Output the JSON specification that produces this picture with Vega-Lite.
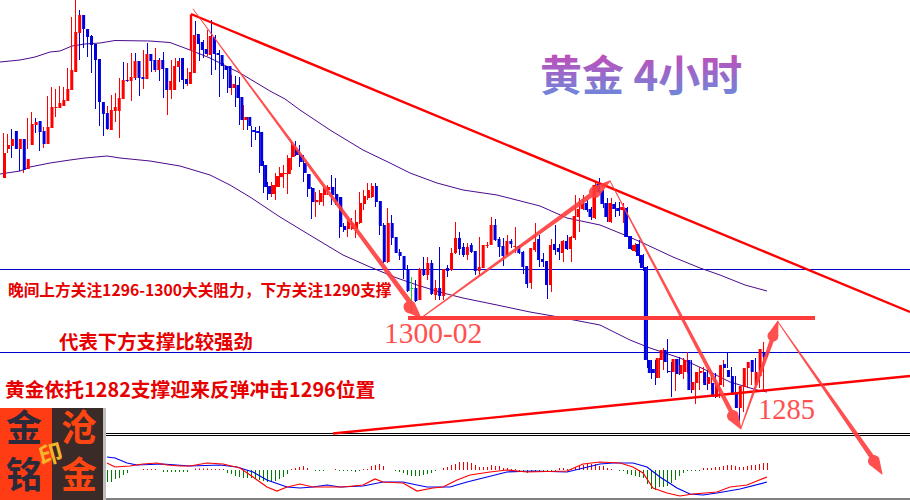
{
  "$schema": "https://vega.github.io/schema/vega-lite/v6.json",
  "width": 910,
  "height": 500,
  "autosize": {"type": "none"},
  "padding": 0,
  "background": "white",
  "config": {"view": {"stroke": null}},
  "resolve": {"scale": {"x": "independent", "y": "independent", "color": "independent", "size": "independent"}},
  "datasets": {
    "candles": [
      {"bar":-1,"dir":"up","high":150,"top":153,"bottom":178,"low":179},
      {"bar":0,"dir":"up","high":133,"top":145,"bottom":149,"low":155},
      {"bar":1,"dir":"up","high":134,"top":139,"bottom":146,"low":153},
      {"bar":2,"dir":"down","high":129,"top":131,"bottom":149,"low":158},
      {"bar":3,"dir":"up","high":136,"top":139,"bottom":149,"low":149},
      {"bar":4,"dir":"down","high":139,"top":139,"bottom":170,"low":171},
      {"bar":5,"dir":"up","high":139,"top":159,"bottom":169,"low":173},
      {"bar":6,"dir":"up","high":118,"top":124,"bottom":145,"low":149},
      {"bar":7,"dir":"up","high":112,"top":122,"bottom":125,"low":126},
      {"bar":8,"dir":"down","high":118,"top":121,"bottom":132,"low":133},
      {"bar":9,"dir":"down","high":129,"top":131,"bottom":144,"low":151},
      {"bar":10,"dir":"up","high":127,"top":127,"bottom":144,"low":148},
      {"bar":11,"dir":"up","high":96,"top":107,"bottom":128,"low":130},
      {"bar":12,"dir":"up","high":87,"top":107,"bottom":108,"low":122},
      {"bar":13,"dir":"up","high":89,"top":103,"bottom":108,"low":117},
      {"bar":14,"dir":"up","high":86,"top":100,"bottom":106,"low":107},
      {"bar":15,"dir":"up","high":87,"top":89,"bottom":101,"low":103},
      {"bar":16,"dir":"up","high":68,"top":70,"bottom":90,"low":91},
      {"bar":17,"dir":"up","high":17,"top":32,"bottom":72,"low":73},
      {"bar":18,"dir":"up","high":0,"top":15,"bottom":33,"low":38},
      {"bar":19,"dir":"down","high":10,"top":15,"bottom":29,"low":60},
      {"bar":20,"dir":"down","high":28,"top":29,"bottom":37,"low":48},
      {"bar":21,"dir":"down","high":33,"top":36,"bottom":45,"low":57},
      {"bar":22,"dir":"down","high":35,"top":44,"bottom":60,"low":73},
      {"bar":23,"dir":"down","high":59,"top":59,"bottom":102,"low":109},
      {"bar":24,"dir":"down","high":102,"top":102,"bottom":114,"low":126},
      {"bar":25,"dir":"down","high":112,"top":113,"bottom":129,"low":136},
      {"bar":26,"dir":"up","high":106,"top":110,"bottom":130,"low":130},
      {"bar":27,"dir":"up","high":95,"top":107,"bottom":111,"low":125},
      {"bar":28,"dir":"up","high":93,"top":98,"bottom":111,"low":122},
      {"bar":29,"dir":"up","high":78,"top":80,"bottom":99,"low":138},
      {"bar":30,"dir":"down","high":62,"top":80,"bottom":81,"low":86},
      {"bar":31,"dir":"up","high":63,"top":77,"bottom":81,"low":82},
      {"bar":32,"dir":"up","high":53,"top":61,"bottom":78,"low":101},
      {"bar":33,"dir":"down","high":53,"top":61,"bottom":78,"low":80},
      {"bar":34,"dir":"down","high":63,"top":77,"bottom":79,"low":96},
      {"bar":35,"dir":"up","high":50,"top":54,"bottom":79,"low":89},
      {"bar":36,"dir":"down","high":43,"top":54,"bottom":61,"low":68},
      {"bar":37,"dir":"down","high":57,"top":60,"bottom":70,"low":72},
      {"bar":38,"dir":"up","high":48,"top":60,"bottom":70,"low":72},
      {"bar":39,"dir":"down","high":58,"top":60,"bottom":69,"low":81},
      {"bar":40,"dir":"down","high":52,"top":68,"bottom":90,"low":98},
      {"bar":41,"dir":"up","high":80,"top":81,"bottom":90,"low":115},
      {"bar":42,"dir":"up","high":60,"top":66,"bottom":90,"low":99},
      {"bar":43,"dir":"up","high":58,"top":61,"bottom":67,"low":69},
      {"bar":44,"dir":"down","high":58,"top":58,"bottom":80,"low":82},
      {"bar":45,"dir":"down","high":75,"top":79,"bottom":84,"low":89},
      {"bar":46,"dir":"up","high":68,"top":72,"bottom":84,"low":86},
      {"bar":47,"dir":"up","high":15,"top":35,"bottom":73,"low":74},
      {"bar":48,"dir":"down","high":21,"top":34,"bottom":44,"low":50},
      {"bar":49,"dir":"down","high":38,"top":42,"bottom":50,"low":61},
      {"bar":50,"dir":"down","high":40,"top":49,"bottom":54,"low":58},
      {"bar":51,"dir":"up","high":30,"top":36,"bottom":55,"low":56},
      {"bar":52,"dir":"down","high":20,"top":37,"bottom":54,"low":75},
      {"bar":53,"dir":"down","high":35,"top":53,"bottom":55,"low":70},
      {"bar":54,"dir":"down","high":50,"top":55,"bottom":66,"low":97},
      {"bar":55,"dir":"down","high":63,"top":66,"bottom":70,"low":79},
      {"bar":56,"dir":"down","high":66,"top":66,"bottom":88,"low":93},
      {"bar":57,"dir":"up","high":75,"top":84,"bottom":88,"low":95},
      {"bar":58,"dir":"down","high":76,"top":85,"bottom":98,"low":107},
      {"bar":59,"dir":"down","high":77,"top":97,"bottom":120,"low":125},
      {"bar":60,"dir":"up","high":105,"top":117,"bottom":120,"low":130},
      {"bar":61,"dir":"down","high":117,"top":117,"bottom":126,"low":130},
      {"bar":62,"dir":"down","high":126,"top":130,"bottom":132,"low":147},
      {"bar":63,"dir":"down","high":127,"top":131,"bottom":133,"low":140},
      {"bar":64,"dir":"down","high":126,"top":132,"bottom":166,"low":173},
      {"bar":65,"dir":"down","high":161,"top":165,"bottom":187,"low":193},
      {"bar":66,"dir":"down","high":182,"top":186,"bottom":194,"low":200},
      {"bar":67,"dir":"up","high":182,"top":185,"bottom":194,"low":197},
      {"bar":68,"dir":"up","high":173,"top":176,"bottom":187,"low":200},
      {"bar":69,"dir":"up","high":167,"top":173,"bottom":177,"low":187},
      {"bar":70,"dir":"up","high":165,"top":173,"bottom":174,"low":188},
      {"bar":71,"dir":"up","high":155,"top":158,"bottom":174,"low":194},
      {"bar":72,"dir":"up","high":142,"top":145,"bottom":157,"low":170},
      {"bar":73,"dir":"down","high":141,"top":150,"bottom":155,"low":156},
      {"bar":74,"dir":"down","high":145,"top":155,"bottom":162,"low":167},
      {"bar":75,"dir":"down","high":155,"top":163,"bottom":173,"low":182},
      {"bar":76,"dir":"down","high":174,"top":174,"bottom":189,"low":197},
      {"bar":77,"dir":"down","high":187,"top":188,"bottom":202,"low":219},
      {"bar":78,"dir":"up","high":192,"top":200,"bottom":202,"low":217},
      {"bar":79,"dir":"up","high":190,"top":193,"bottom":202,"low":205},
      {"bar":80,"dir":"up","high":187,"top":189,"bottom":195,"low":206},
      {"bar":81,"dir":"up","high":185,"top":187,"bottom":190,"low":195},
      {"bar":82,"dir":"down","high":175,"top":187,"bottom":195,"low":205},
      {"bar":83,"dir":"down","high":178,"top":194,"bottom":202,"low":205},
      {"bar":84,"dir":"down","high":197,"top":197,"bottom":227,"low":238},
      {"bar":85,"dir":"down","high":223,"top":226,"bottom":230,"low":232},
      {"bar":86,"dir":"up","high":220,"top":222,"bottom":229,"low":237},
      {"bar":87,"dir":"up","high":218,"top":223,"bottom":229,"low":230},
      {"bar":88,"dir":"up","high":210,"top":222,"bottom":229,"low":238},
      {"bar":89,"dir":"up","high":192,"top":203,"bottom":223,"low":224},
      {"bar":90,"dir":"up","high":190,"top":196,"bottom":204,"low":210},
      {"bar":91,"dir":"up","high":183,"top":190,"bottom":198,"low":200},
      {"bar":92,"dir":"up","high":183,"top":186,"bottom":197,"low":198},
      {"bar":93,"dir":"down","high":183,"top":186,"bottom":202,"low":207},
      {"bar":94,"dir":"down","high":201,"top":201,"bottom":226,"low":235},
      {"bar":95,"dir":"down","high":223,"top":225,"bottom":262,"low":263},
      {"bar":96,"dir":"up","high":208,"top":223,"bottom":262,"low":263},
      {"bar":97,"dir":"down","high":215,"top":223,"bottom":238,"low":245},
      {"bar":98,"dir":"down","high":237,"top":237,"bottom":253,"low":253},
      {"bar":99,"dir":"down","high":249,"top":252,"bottom":256,"low":260},
      {"bar":100,"dir":"down","high":256,"top":256,"bottom":270,"low":279},
      {"bar":101,"dir":"down","high":265,"top":269,"bottom":291,"low":292},
      {"bar":102,"dir":"flat","high":277,"top":288,"bottom":289,"low":313},
      {"bar":103,"dir":"down","high":280,"top":288,"bottom":301,"low":302},
      {"bar":104,"dir":"up","high":268,"top":269,"bottom":300,"low":300},
      {"bar":105,"dir":"down","high":257,"top":269,"bottom":275,"low":276},
      {"bar":106,"dir":"up","high":257,"top":263,"bottom":275,"low":280},
      {"bar":107,"dir":"down","high":260,"top":263,"bottom":294,"low":295},
      {"bar":108,"dir":"up","high":280,"top":288,"bottom":295,"low":300},
      {"bar":109,"dir":"down","high":247,"top":288,"bottom":296,"low":300},
      {"bar":110,"dir":"up","high":269,"top":269,"bottom":296,"low":300},
      {"bar":111,"dir":"down","high":265,"top":268,"bottom":271,"low":277},
      {"bar":112,"dir":"up","high":248,"top":253,"bottom":270,"low":271},
      {"bar":113,"dir":"up","high":222,"top":238,"bottom":253,"low":254},
      {"bar":114,"dir":"down","high":232,"top":238,"bottom":249,"low":255},
      {"bar":115,"dir":"down","high":243,"top":247,"bottom":255,"low":257},
      {"bar":116,"dir":"up","high":243,"top":247,"bottom":255,"low":260},
      {"bar":117,"dir":"down","high":243,"top":245,"bottom":252,"low":253},
      {"bar":118,"dir":"down","high":251,"top":251,"bottom":271,"low":275},
      {"bar":119,"dir":"up","high":237,"top":267,"bottom":271,"low":276},
      {"bar":120,"dir":"up","high":245,"top":245,"bottom":268,"low":268},
      {"bar":121,"dir":"up","high":242,"top":245,"bottom":246,"low":248},
      {"bar":122,"dir":"up","high":217,"top":225,"bottom":245,"low":245},
      {"bar":123,"dir":"down","high":219,"top":225,"bottom":240,"low":241},
      {"bar":124,"dir":"down","high":237,"top":239,"bottom":247,"low":257},
      {"bar":125,"dir":"down","high":238,"top":246,"bottom":256,"low":266},
      {"bar":126,"dir":"up","high":235,"top":241,"bottom":255,"low":256},
      {"bar":127,"dir":"down","high":239,"top":241,"bottom":244,"low":248},
      {"bar":128,"dir":"up","high":227,"top":246,"bottom":247,"low":253},
      {"bar":129,"dir":"down","high":245,"top":246,"bottom":253,"low":254},
      {"bar":130,"dir":"down","high":251,"top":252,"bottom":267,"low":274},
      {"bar":131,"dir":"down","high":266,"top":266,"bottom":284,"low":288},
      {"bar":132,"dir":"up","high":248,"top":248,"bottom":283,"low":289},
      {"bar":133,"dir":"up","high":223,"top":242,"bottom":250,"low":252},
      {"bar":134,"dir":"down","high":235,"top":239,"bottom":260,"low":267},
      {"bar":135,"dir":"down","high":253,"top":259,"bottom":262,"low":267},
      {"bar":136,"dir":"down","high":261,"top":261,"bottom":285,"low":299},
      {"bar":137,"dir":"up","high":239,"top":245,"bottom":285,"low":292},
      {"bar":138,"dir":"down","high":225,"top":244,"bottom":250,"low":255},
      {"bar":139,"dir":"down","high":244,"top":248,"bottom":252,"low":260},
      {"bar":140,"dir":"up","high":240,"top":241,"bottom":253,"low":262},
      {"bar":141,"dir":"down","high":235,"top":241,"bottom":249,"low":250},
      {"bar":142,"dir":"up","high":236,"top":237,"bottom":249,"low":262},
      {"bar":143,"dir":"up","high":195,"top":216,"bottom":238,"low":240},
      {"bar":144,"dir":"up","high":198,"top":209,"bottom":217,"low":232},
      {"bar":145,"dir":"up","high":195,"top":204,"bottom":209,"low":210},
      {"bar":146,"dir":"down","high":200,"top":203,"bottom":210,"low":212},
      {"bar":147,"dir":"down","high":207,"top":209,"bottom":217,"low":220},
      {"bar":148,"dir":"up","high":182,"top":185,"bottom":218,"low":219},
      {"bar":149,"dir":"down","high":178,"top":184,"bottom":192,"low":193},
      {"bar":150,"dir":"down","high":190,"top":191,"bottom":204,"low":208},
      {"bar":151,"dir":"down","high":198,"top":203,"bottom":217,"low":222},
      {"bar":152,"dir":"up","high":198,"top":203,"bottom":222,"low":223},
      {"bar":153,"dir":"down","high":202,"top":204,"bottom":209,"low":217},
      {"bar":154,"dir":"down","high":202,"top":208,"bottom":211,"low":216},
      {"bar":155,"dir":"up","high":203,"top":207,"bottom":210,"low":223},
      {"bar":156,"dir":"down","high":207,"top":208,"bottom":237,"low":237},
      {"bar":157,"dir":"down","high":236,"top":236,"bottom":249,"low":250},
      {"bar":158,"dir":"up","high":243,"top":245,"bottom":251,"low":252},
      {"bar":159,"dir":"down","high":240,"top":244,"bottom":256,"low":263},
      {"bar":160,"dir":"down","high":254,"top":255,"bottom":268,"low":271},
      {"bar":161,"dir":"down","high":266,"top":267,"bottom":360,"low":368},
      {"bar":162,"dir":"down","high":360,"top":360,"bottom":373,"low":379},
      {"bar":163,"dir":"down","high":360,"top":369,"bottom":373,"low":385},
      {"bar":164,"dir":"up","high":358,"top":358,"bottom":378,"low":378},
      {"bar":165,"dir":"up","high":348,"top":350,"bottom":360,"low":370},
      {"bar":166,"dir":"down","high":339,"top":350,"bottom":362,"low":373},
      {"bar":167,"dir":"down","high":362,"top":371,"bottom":372,"low":397},
      {"bar":168,"dir":"up","high":359,"top":359,"bottom":372,"low":391},
      {"bar":169,"dir":"down","high":357,"top":359,"bottom":374,"low":375},
      {"bar":170,"dir":"up","high":358,"top":365,"bottom":374,"low":379},
      {"bar":171,"dir":"up","high":352,"top":360,"bottom":372,"low":373},
      {"bar":172,"dir":"down","high":360,"top":360,"bottom":390,"low":393},
      {"bar":173,"dir":"up","high":372,"top":382,"bottom":390,"low":404},
      {"bar":174,"dir":"up","high":367,"top":372,"bottom":383,"low":390},
      {"bar":175,"dir":"up","high":367,"top":371,"bottom":373,"low":383},
      {"bar":176,"dir":"down","high":370,"top":372,"bottom":385,"low":390},
      {"bar":177,"dir":"up","high":375,"top":377,"bottom":384,"low":390},
      {"bar":178,"dir":"down","high":373,"top":383,"bottom":397,"low":398},
      {"bar":179,"dir":"up","high":383,"top":385,"bottom":397,"low":398},
      {"bar":180,"dir":"up","high":360,"top":365,"bottom":385,"low":387},
      {"bar":181,"dir":"down","high":353,"top":364,"bottom":368,"low":368},
      {"bar":182,"dir":"down","high":367,"top":370,"bottom":377,"low":385},
      {"bar":183,"dir":"down","high":376,"top":376,"bottom":395,"low":400},
      {"bar":184,"dir":"down","high":394,"top":394,"bottom":408,"low":421},
      {"bar":185,"dir":"up","high":386,"top":386,"bottom":408,"low":412},
      {"bar":186,"dir":"up","high":365,"top":368,"bottom":387,"low":388},
      {"bar":187,"dir":"up","high":360,"top":362,"bottom":368,"low":385},
      {"bar":188,"dir":"down","high":358,"top":360,"bottom":372,"low":378},
      {"bar":189,"dir":"up","high":372,"top":372,"bottom":385,"low":388},
      {"bar":190,"dir":"up","high":342,"top":349,"bottom":376,"low":391},
      {"bar":191,"dir":"down","high":352,"top":352,"bottom":357,"low":357}
    ],
    "hist": [
      {"bar":26,"hist":-12},{"bar":27,"hist":-12},{"bar":28,"hist":-9},{"bar":29,"hist":-8},{"bar":30,"hist":-5},{"bar":31,"hist":-3},
      {"bar":35,"hist":1},{"bar":36,"hist":1},{"bar":37,"hist":1},{"bar":38,"hist":1},
      {"bar":40,"hist":-2},{"bar":41,"hist":-2},{"bar":42,"hist":-2},{"bar":43,"hist":-2},{"bar":44,"hist":-2},{"bar":45,"hist":-2},{"bar":46,"hist":-2},
      {"bar":48,"hist":1.5},{"bar":49,"hist":1.5},{"bar":50,"hist":1.5},{"bar":51,"hist":1.5},{"bar":52,"hist":1},{"bar":53,"hist":1},{"bar":54,"hist":1},{"bar":55,"hist":1},
      {"bar":56,"hist":-3},{"bar":57,"hist":-4},{"bar":58,"hist":-6},{"bar":59,"hist":-7},{"bar":60,"hist":-8},{"bar":61,"hist":-8},{"bar":62,"hist":-8},{"bar":63,"hist":-9},{"bar":64,"hist":-10},{"bar":65,"hist":-11},{"bar":66,"hist":-12},{"bar":67,"hist":-12},{"bar":68,"hist":-11},{"bar":69,"hist":-9},{"bar":70,"hist":-7},{"bar":71,"hist":-4},
      {"bar":72,"hist":1},{"bar":73,"hist":2},{"bar":74,"hist":3},{"bar":75,"hist":4},{"bar":76,"hist":2},
      {"bar":78,"hist":-1},{"bar":79,"hist":-1},{"bar":80,"hist":-1},
      {"bar":83,"hist":1},{"bar":84,"hist":-1},{"bar":85,"hist":-1},{"bar":86,"hist":-1},{"bar":87,"hist":-1},{"bar":88,"hist":-2},{"bar":89,"hist":-1},
      {"bar":90,"hist":1},{"bar":91,"hist":1},{"bar":92,"hist":4},{"bar":93,"hist":5},{"bar":94,"hist":6},{"bar":95,"hist":4},
      {"bar":98,"hist":-1},{"bar":99,"hist":-2},{"bar":100,"hist":-3},{"bar":101,"hist":-5},{"bar":102,"hist":-6},{"bar":103,"hist":-6},{"bar":104,"hist":-6},{"bar":105,"hist":-5},{"bar":106,"hist":-4},{"bar":107,"hist":-3},{"bar":108,"hist":-1},
      {"bar":110,"hist":2},{"bar":111,"hist":3},{"bar":112,"hist":5},{"bar":113,"hist":6},{"bar":114,"hist":8},{"bar":115,"hist":8},{"bar":116,"hist":8},{"bar":117,"hist":7},{"bar":118,"hist":5},{"bar":119,"hist":3},{"bar":120,"hist":3},{"bar":121,"hist":3},{"bar":122,"hist":5},{"bar":123,"hist":4},{"bar":124,"hist":4},{"bar":125,"hist":2},{"bar":126,"hist":2},{"bar":127,"hist":1},{"bar":128,"hist":1},
      {"bar":129,"hist":-1},{"bar":130,"hist":-1},{"bar":131,"hist":-3},{"bar":132,"hist":-2},{"bar":133,"hist":-2},{"bar":134,"hist":-2},{"bar":135,"hist":-2},{"bar":136,"hist":-1},{"bar":137,"hist":-1},{"bar":138,"hist":-1},
      {"bar":139,"hist":2},{"bar":140,"hist":2},{"bar":141,"hist":1},{"bar":142,"hist":1},{"bar":143,"hist":3},{"bar":144,"hist":4},{"bar":145,"hist":5},{"bar":146,"hist":6},{"bar":147,"hist":6},{"bar":148,"hist":6},{"bar":149,"hist":4},{"bar":150,"hist":4},{"bar":151,"hist":2},{"bar":152,"hist":1},
      {"bar":154,"hist":-1},{"bar":155,"hist":-1},{"bar":156,"hist":-4},{"bar":157,"hist":-5},{"bar":158,"hist":-6},{"bar":159,"hist":-7},{"bar":160,"hist":-8},{"bar":161,"hist":-14},{"bar":162,"hist":-19},{"bar":163,"hist":-20},{"bar":164,"hist":-17},{"bar":165,"hist":-17},{"bar":166,"hist":-16},{"bar":167,"hist":-13},{"bar":168,"hist":-10},{"bar":169,"hist":-6},{"bar":170,"hist":-3},{"bar":171,"hist":-1},{"bar":172,"hist":-1},{"bar":173,"hist":-1},{"bar":174,"hist":-1},
      {"bar":175,"hist":2},{"bar":176,"hist":2},{"bar":177,"hist":2},{"bar":178,"hist":3},{"bar":179,"hist":3},{"bar":180,"hist":4},{"bar":181,"hist":5},{"bar":182,"hist":5},{"bar":183,"hist":4},{"bar":184,"hist":3},{"bar":185,"hist":3},{"bar":186,"hist":4},{"bar":187,"hist":5},{"bar":188,"hist":5},{"bar":189,"hist":6},{"bar":190,"hist":7},{"bar":191,"hist":7}
    ],
    "averages": [
      {"band":"upper","x":0,"y":62},{"band":"upper","x":20,"y":60},{"band":"upper","x":35,"y":57},{"band":"upper","x":50,"y":52},{"band":"upper","x":60,"y":51},{"band":"upper","x":72,"y":46},{"band":"upper","x":85,"y":44},{"band":"upper","x":100,"y":43},{"band":"upper","x":115,"y":40.5},{"band":"upper","x":150,"y":41},{"band":"upper","x":170,"y":42.5},{"band":"upper","x":190,"y":50},{"band":"upper","x":210,"y":58},{"band":"upper","x":240,"y":73},{"band":"upper","x":255,"y":82},{"band":"upper","x":270,"y":91},{"band":"upper","x":285,"y":99},{"band":"upper","x":300,"y":110},{"band":"upper","x":330,"y":130},{"band":"upper","x":363,"y":150},{"band":"upper","x":390,"y":163},{"band":"upper","x":410,"y":173},{"band":"upper","x":437,"y":183},{"band":"upper","x":463,"y":190},{"band":"upper","x":497,"y":195},{"band":"upper","x":540,"y":206},{"band":"upper","x":567,"y":218},{"band":"upper","x":600,"y":225},{"band":"upper","x":627,"y":236},{"band":"upper","x":643,"y":243},{"band":"upper","x":673,"y":257},{"band":"upper","x":700,"y":268},{"band":"upper","x":720,"y":275},{"band":"upper","x":745,"y":285},{"band":"upper","x":767,"y":291},
      {"band":"lower","x":0,"y":174},{"band":"lower","x":20,"y":171},{"band":"lower","x":30,"y":167},{"band":"lower","x":50,"y":163},{"band":"lower","x":70,"y":160},{"band":"lower","x":85,"y":158},{"band":"lower","x":107,"y":156},{"band":"lower","x":120,"y":158},{"band":"lower","x":150,"y":161},{"band":"lower","x":180,"y":166},{"band":"lower","x":210,"y":175},{"band":"lower","x":230,"y":185},{"band":"lower","x":250,"y":197},{"band":"lower","x":280,"y":217},{"band":"lower","x":313,"y":237},{"band":"lower","x":343,"y":255},{"band":"lower","x":370,"y":267},{"band":"lower","x":397,"y":278},{"band":"lower","x":417,"y":285},{"band":"lower","x":443,"y":293},{"band":"lower","x":463,"y":298},{"band":"lower","x":497,"y":305},{"band":"lower","x":530,"y":312},{"band":"lower","x":553,"y":316},{"band":"lower","x":600,"y":325},{"band":"lower","x":630,"y":340},{"band":"lower","x":650,"y":348},{"band":"lower","x":680,"y":358},{"band":"lower","x":710,"y":372},{"band":"lower","x":730,"y":382},{"band":"lower","x":757,"y":390},{"band":"lower","x":767,"y":392}
    ],
    "macd": [
      {"line":"signal","x":107,"y":457},{"line":"signal","x":115,"y":458},{"line":"signal","x":127,"y":463},{"line":"signal","x":137,"y":465},{"line":"signal","x":163,"y":464},{"line":"signal","x":190,"y":466},{"line":"signal","x":220,"y":465},{"line":"signal","x":237,"y":467},{"line":"signal","x":253,"y":472},{"line":"signal","x":267,"y":480},{"line":"signal","x":287,"y":487},{"line":"signal","x":300,"y":488},{"line":"signal","x":313,"y":487},{"line":"signal","x":327,"y":485},{"line":"signal","x":340,"y":487},{"line":"signal","x":363,"y":486},{"line":"signal","x":383,"y":482},{"line":"signal","x":403,"y":482},{"line":"signal","x":417,"y":485},{"line":"signal","x":427,"y":487},{"line":"signal","x":450,"y":487},{"line":"signal","x":467,"y":482},{"line":"signal","x":487,"y":477},{"line":"signal","x":507,"y":472},{"line":"signal","x":533,"y":471},{"line":"signal","x":567,"y":472},{"line":"signal","x":600,"y":464},{"line":"signal","x":613,"y":463},{"line":"signal","x":633,"y":463},{"line":"signal","x":647,"y":467},{"line":"signal","x":660,"y":477},{"line":"signal","x":677,"y":488},{"line":"signal","x":690,"y":494},{"line":"signal","x":703,"y":495},{"line":"signal","x":717,"y":493},{"line":"signal","x":740,"y":489},{"line":"signal","x":767,"y":482},
      {"line":"macd","x":107,"y":463},{"line":"macd","x":115,"y":467},{"line":"macd","x":130,"y":466},{"line":"macd","x":143,"y":464},{"line":"macd","x":157,"y":463},{"line":"macd","x":167,"y":465},{"line":"macd","x":180,"y":466},{"line":"macd","x":190,"y":466},{"line":"macd","x":207,"y":463},{"line":"macd","x":223,"y":464},{"line":"macd","x":240,"y":468},{"line":"macd","x":253,"y":477},{"line":"macd","x":267,"y":487},{"line":"macd","x":277,"y":491},{"line":"macd","x":287,"y":487},{"line":"macd","x":300,"y":484},{"line":"macd","x":313,"y":487},{"line":"macd","x":343,"y":487},{"line":"macd","x":363,"y":485},{"line":"macd","x":375,"y":479},{"line":"macd","x":383,"y":482},{"line":"macd","x":403,"y":483},{"line":"macd","x":417,"y":491},{"line":"macd","x":433,"y":488},{"line":"macd","x":443,"y":487},{"line":"macd","x":457,"y":480},{"line":"macd","x":470,"y":475},{"line":"macd","x":490,"y":472},{"line":"macd","x":507,"y":470},{"line":"macd","x":527,"y":472},{"line":"macd","x":567,"y":471},{"line":"macd","x":583,"y":464},{"line":"macd","x":600,"y":462},{"line":"macd","x":620,"y":463},{"line":"macd","x":633,"y":467},{"line":"macd","x":643,"y":473},{"line":"macd","x":653,"y":488},{"line":"macd","x":667,"y":493},{"line":"macd","x":680,"y":496},{"line":"macd","x":693,"y":494},{"line":"macd","x":717,"y":492},{"line":"macd","x":730,"y":487},{"line":"macd","x":747,"y":485},{"line":"macd","x":767,"y":477}
    ],
    "trends": [
      {"trend":"falling","x":191,"y":50},{"trend":"falling","x":191,"y":14.5},{"trend":"falling2","x":191,"y":14},{"trend":"falling2","x":910,"y":312},
      {"trend":"rising","x":333,"y":433.5},{"trend":"rising","x":910,"y":376}
    ],
    "arrows": [
      {"arrow":"a","seq":1,"x":193,"y":9,"weight":0.8},{"arrow":"a","seq":2,"x":412,"y":305,"weight":5},{"arrow":"a","seq":3,"x":410,"y":307,"weight":13},{"arrow":"a","seq":4,"x":421,"y":318,"weight":1},
      {"arrow":"b","seq":1,"x":421,"y":318,"weight":1},{"arrow":"b","seq":2,"x":594,"y":193,"weight":5},{"arrow":"b","seq":3,"x":595,"y":192,"weight":12},{"arrow":"b","seq":4,"x":610,"y":181,"weight":1},
      {"arrow":"c","seq":1,"x":610,"y":181,"weight":1},{"arrow":"c","seq":2,"x":733,"y":415,"weight":4.5},{"arrow":"c","seq":3,"x":733,"y":416,"weight":12},{"arrow":"c","seq":4,"x":741,"y":429,"weight":1},
      {"arrow":"d","seq":1,"x":741,"y":428,"weight":1},{"arrow":"d","seq":2,"x":773,"y":337,"weight":4.5},{"arrow":"d","seq":3,"x":773,"y":336,"weight":11},{"arrow":"d","seq":4,"x":778,"y":321,"weight":1},
      {"arrow":"e","seq":1,"x":778,"y":322,"weight":1},{"arrow":"e","seq":2,"x":874,"y":460,"weight":5},{"arrow":"e","seq":3,"x":874,"y":461,"weight":12},{"arrow":"e","seq":4,"x":882,"y":474,"weight":1}
    ],
    "levels": [
      {"kind":"blue","y":269.5,"x":0,"x2":910},
      {"kind":"blue","y":352.5,"x":0,"x2":910},
      {"kind":"black","y":433.5,"x":0,"x2":910},
      {"kind":"black","y":435.5,"x":0,"x2":910},
      {"kind":"black","y":499,"x":0,"x2":910}
    ],
    "logo": [
      {"part":"left","x":0,"x2":52,"y":408,"y2":500},
      {"part":"right","x":52,"x2":103,"y":408,"y2":500},
      {"part":"edge","x":103,"x2":106,"y":408,"y2":500}
    ]
  },
  "layer": [
    {
      "data": {"name": "levels"},
      "mark": {"type": "rule", "strokeWidth": 1},
      "encoding": {
        "x": {"field": "x", "type": "quantitative", "scale": {"domain": [0, 910], "nice": false, "zero": false}, "axis": null},
        "x2": {"field": "x2"},
        "y": {"field": "y", "type": "quantitative", "scale": {"domain": [500, 0], "nice": false, "zero": false}, "axis": null},
        "color": {"field": "kind", "type": "nominal", "scale": {"domain": ["blue", "black"], "range": ["#0000cc", "#000000"]}, "legend": null}
      }
    },
    {
      "data": {"name": "averages"},
      "mark": {"type": "line", "strokeWidth": 1, "color": "#4b0a8c"},
      "encoding": {
        "x": {"field": "x", "type": "quantitative", "scale": {"domain": [0, 910], "nice": false, "zero": false}, "axis": null},
        "y": {"field": "y", "type": "quantitative", "scale": {"domain": [500, 0], "nice": false, "zero": false}, "axis": null},
        "detail": {"field": "band"}
      }
    },
    {
      "data": {"name": "candles"},
      "mark": {"type": "rule", "strokeWidth": 1, "clip": true},
      "encoding": {
        "x": {"field": "bar", "type": "quantitative", "scale": {"domain": [-0.875, 226.625], "nice": false, "zero": false}, "axis": null},
        "y": {"field": "high", "type": "quantitative", "scale": {"domain": [500, 0], "nice": false, "zero": false}, "axis": null},
        "y2": {"field": "low"},
        "color": {"field": "dir", "type": "nominal", "scale": {"domain": ["up", "down", "flat"], "range": ["#ff0000", "#0000dd", "#22cc22"]}, "legend": null}
      }
    },
    {
      "data": {"name": "candles"},
      "mark": {"type": "bar", "size": 3, "clip": true},
      "encoding": {
        "x": {"field": "bar", "type": "quantitative", "scale": {"domain": [-0.875, 226.625], "nice": false, "zero": false}, "axis": null},
        "y": {"field": "top", "type": "quantitative", "scale": {"domain": [500, 0], "nice": false, "zero": false}, "axis": null},
        "y2": {"field": "bottom"},
        "color": {"field": "dir", "type": "nominal", "scale": {"domain": ["up", "down", "flat"], "range": ["#ff0000", "#0000dd", "#22cc22"]}, "legend": null}
      }
    },
    {
      "data": {"name": "hist"},
      "mark": {"type": "rule", "strokeWidth": 1},
      "encoding": {
        "x": {"field": "bar", "type": "quantitative", "scale": {"domain": [-0.875, 226.625], "nice": false, "zero": false}, "axis": null},
        "y": {"field": "hist", "type": "quantitative", "scale": {"domain": [-30, 470], "nice": false, "zero": false}, "axis": null},
        "y2": {"datum": 0},
        "color": {"condition": {"test": "datum.hist > 0", "value": "#ee0000"}, "value": "#007a00"}
      }
    },
    {
      "data": {"name": "macd"},
      "mark": {"type": "line", "strokeWidth": 1.2},
      "encoding": {
        "x": {"field": "x", "type": "quantitative", "scale": {"domain": [0, 910], "nice": false, "zero": false}, "axis": null},
        "y": {"field": "y", "type": "quantitative", "scale": {"domain": [500, 0], "nice": false, "zero": false}, "axis": null},
        "color": {"field": "line", "type": "nominal", "scale": {"domain": ["signal", "macd"], "range": ["#0000ee", "#ff0000"]}, "legend": null}
      }
    },
    {
      "data": {"name": "trends"},
      "mark": {"type": "line", "strokeWidth": 2.4, "color": "#ff0000"},
      "encoding": {
        "x": {"field": "x", "type": "quantitative", "scale": {"domain": [0, 910], "nice": false, "zero": false}, "axis": null},
        "y": {"field": "y", "type": "quantitative", "scale": {"domain": [500, 0], "nice": false, "zero": false}, "axis": null},
        "detail": {"field": "trend"}
      }
    },
    {
      "data": {"values": [{"level": "1300-02", "x": 408, "x2": 815, "y": 318}]},
      "mark": {"type": "rule", "strokeWidth": 4, "color": "#ff3c3c"},
      "encoding": {
        "x": {"field": "x", "type": "quantitative", "scale": {"domain": [0, 910], "nice": false, "zero": false}, "axis": null},
        "x2": {"field": "x2"},
        "y": {"field": "y", "type": "quantitative", "scale": {"domain": [500, 0], "nice": false, "zero": false}, "axis": null}
      }
    },
    {
      "data": {"name": "arrows"},
      "mark": {"type": "trail", "color": "#ff3c3c", "opacity": 0.9},
      "encoding": {
        "x": {"field": "x", "type": "quantitative", "scale": {"domain": [0, 910], "nice": false, "zero": false}, "axis": null},
        "y": {"field": "y", "type": "quantitative", "scale": {"domain": [500, 0], "nice": false, "zero": false}, "axis": null},
        "size": {"field": "weight", "type": "quantitative", "scale": {"domain": [0, 14], "range": [0, 14]}, "legend": null},
        "detail": {"field": "arrow"},
        "order": {"field": "seq", "type": "quantitative"}
      }
    },
    {
      "data": {"name": "logo"},
      "mark": {"type": "rect"},
      "encoding": {
        "x": {"field": "x", "type": "quantitative", "scale": {"domain": [0, 910], "nice": false, "zero": false}, "axis": null},
        "x2": {"field": "x2"},
        "y": {"field": "y", "type": "quantitative", "scale": {"domain": [500, 0], "nice": false, "zero": false}, "axis": null},
        "y2": {"field": "y2"},
        "color": {"field": "part", "type": "nominal", "scale": {"domain": ["left", "right", "edge"], "range": ["#ff3c14", "#3a2a28", "#bdbdbd"]}, "legend": null}
      }
    },
    {
      "data": {"values": [{"t": "金", "x": 24, "y": 430}, {"t": "铭", "x": 24, "y": 477}]},
      "mark": {"type": "text", "font": "Noto Sans CJK SC", "fontWeight": "bold", "fontSize": 36, "color": "#2a2a3a", "baseline": "middle"},
      "encoding": {
        "x": {"field": "x", "type": "quantitative", "scale": {"domain": [0, 910], "nice": false, "zero": false}, "axis": null},
        "y": {"field": "y", "type": "quantitative", "scale": {"domain": [500, 0], "nice": false, "zero": false}, "axis": null},
        "text": {"field": "t"}
      }
    },
    {
      "data": {"values": [{"t": "沧", "x": 79, "y": 430}, {"t": "金", "x": 79, "y": 477}]},
      "mark": {"type": "text", "font": "Noto Sans CJK SC", "fontWeight": "bold", "fontSize": 36, "color": "#ff4512", "baseline": "middle"},
      "encoding": {
        "x": {"field": "x", "type": "quantitative", "scale": {"domain": [0, 910], "nice": false, "zero": false}, "axis": null},
        "y": {"field": "y", "type": "quantitative", "scale": {"domain": [500, 0], "nice": false, "zero": false}, "axis": null},
        "text": {"field": "t"}
      }
    },
    {
      "data": {"values": [{"t": "印", "x": 51, "y": 456}]},
      "mark": {"type": "text", "font": "Noto Sans CJK SC", "fontWeight": "bold", "fontSize": 24, "angle": -15, "color": "#f5b52a", "baseline": "middle"},
      "encoding": {
        "x": {"field": "x", "type": "quantitative", "scale": {"domain": [0, 910], "nice": false, "zero": false}, "axis": null},
        "y": {"field": "y", "type": "quantitative", "scale": {"domain": [500, 0], "nice": false, "zero": false}, "axis": null},
        "text": {"field": "t"}
      }
    },
    {
      "data": {"values": [{"t": "晚间上方关注1296-1300大关阻力，下方关注1290支撑", "x": 8, "y": 291}]},
      "mark": {"type": "text", "font": "Noto Sans CJK SC", "fontWeight": "bold", "fontSize": 15.7, "color": "#e60000", "align": "left", "baseline": "middle"},
      "encoding": {
        "x": {"field": "x", "type": "quantitative", "scale": {"domain": [0, 910], "nice": false, "zero": false}, "axis": null},
        "y": {"field": "y", "type": "quantitative", "scale": {"domain": [500, 0], "nice": false, "zero": false}, "axis": null},
        "text": {"field": "t"}
      }
    },
    {
      "data": {"values": [{"t": "代表下方支撑比较强劲", "x": 59, "y": 343}]},
      "mark": {"type": "text", "font": "Noto Sans CJK SC", "fontWeight": "bold", "fontSize": 19.4, "color": "#e60000", "align": "left", "baseline": "middle"},
      "encoding": {
        "x": {"field": "x", "type": "quantitative", "scale": {"domain": [0, 910], "nice": false, "zero": false}, "axis": null},
        "y": {"field": "y", "type": "quantitative", "scale": {"domain": [500, 0], "nice": false, "zero": false}, "axis": null},
        "text": {"field": "t"}
      }
    },
    {
      "data": {"values": [{"t": "黄金依托1282支撑迎来反弹冲击1296位置", "x": 5, "y": 391}]},
      "mark": {"type": "text", "font": "Noto Sans CJK SC", "fontWeight": "bold", "fontSize": 19.8, "color": "#e60000", "align": "left", "baseline": "middle"},
      "encoding": {
        "x": {"field": "x", "type": "quantitative", "scale": {"domain": [0, 910], "nice": false, "zero": false}, "axis": null},
        "y": {"field": "y", "type": "quantitative", "scale": {"domain": [500, 0], "nice": false, "zero": false}, "axis": null},
        "text": {"field": "t"}
      }
    },
    {
      "data": {"values": [{"t": "1300-02", "x": 384, "y": 334}]},
      "mark": {"type": "text", "font": "Liberation Serif", "fontSize": 29.5, "color": "#ff5050", "align": "left", "baseline": "middle"},
      "encoding": {
        "x": {"field": "x", "type": "quantitative", "scale": {"domain": [0, 910], "nice": false, "zero": false}, "axis": null},
        "y": {"field": "y", "type": "quantitative", "scale": {"domain": [500, 0], "nice": false, "zero": false}, "axis": null},
        "text": {"field": "t"}
      }
    },
    {
      "data": {"values": [{"t": "1285", "x": 758, "y": 410}]},
      "mark": {"type": "text", "font": "Liberation Serif", "fontSize": 28.5, "color": "#ff5050", "align": "left", "baseline": "middle"},
      "encoding": {
        "x": {"field": "x", "type": "quantitative", "scale": {"domain": [0, 910], "nice": false, "zero": false}, "axis": null},
        "y": {"field": "y", "type": "quantitative", "scale": {"domain": [500, 0], "nice": false, "zero": false}, "axis": null},
        "text": {"field": "t"}
      }
    },
    {
      "data": {"values": [{"t": "黄金 4小时", "x": 540, "y": 78}]},
      "mark": {
        "type": "text",
        "font": "Noto Sans CJK SC",
        "fontWeight": "bold",
        "fontSize": 42,
        "align": "left",
        "baseline": "middle",
        "fill": {"gradient": "linear", "x1": 0, "y1": 0, "x2": 0, "y2": 1, "stops": [{"offset": 0, "color": "#d83cb0"}, {"offset": 1, "color": "#5f92e0"}]}
      },
      "encoding": {
        "x": {"field": "x", "type": "quantitative", "scale": {"domain": [0, 910], "nice": false, "zero": false}, "axis": null},
        "y": {"field": "y", "type": "quantitative", "scale": {"domain": [500, 0], "nice": false, "zero": false}, "axis": null},
        "text": {"field": "t"}
      }
    }
  ]
}
